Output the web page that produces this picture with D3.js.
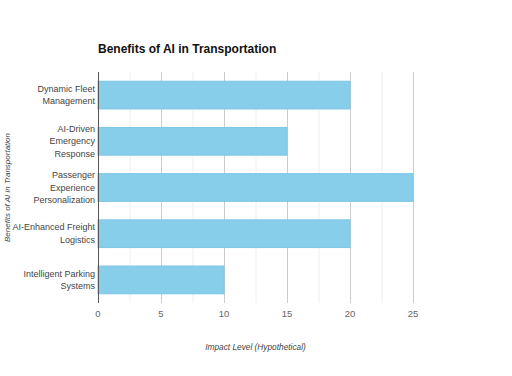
<!DOCTYPE html>
<html>
<head>
<meta charset="utf-8">
<script src="https://cdn.jsdelivr.net/npm/d3@7"></script>
<style>
  body { margin: 0; background: #fff; font-family: Arial, "Liberation Sans", sans-serif; }
</style>
</head>
<body>
<div id="chart"></div>
<script>
var categories = [
  ["Dynamic Fleet", "Management"],
  ["AI-Driven", "Emergency", "Response"],
  ["Passenger", "Experience", "Personalization"],
  ["AI-Enhanced Freight", "Logistics"],
  ["Intelligent Parking", "Systems"]
];
var values = [20, 15, 25, 20, 10];
var xTicks = [0, 5, 10, 15, 20, 25];
var minorTicks = [2.5, 7.5, 12.5, 17.5, 22.5];

var width = 512;
var height = 376;
var margin = { top: 72, right: 99, bottom: 73, left: 98 };

var svg = d3.select("#chart")
  .append("svg")
  .attr("width", width)
  .attr("height", height);

var x = d3.scaleLinear()
  .domain([0, 25])
  .range([margin.left, width - margin.right]);

var y = d3.scaleBand()
  .domain(d3.range(categories.length))
  .range([margin.top, height - margin.bottom])
  .paddingInner(0.4)
  .paddingOuter(0.2);

// grid
svg.append("g")
  .selectAll("line")
  .data(minorTicks)
  .join("line")
  .attr("x1", d => x(d) + 0.5)
  .attr("x2", d => x(d) + 0.5)
  .attr("y1", margin.top)
  .attr("y2", height - margin.bottom)
  .attr("stroke", "#eeeeee");

svg.append("g")
  .selectAll("line")
  .data(xTicks.slice(1))
  .join("line")
  .attr("x1", d => x(d) + 0.5)
  .attr("x2", d => x(d) + 0.5)
  .attr("y1", margin.top)
  .attr("y2", height - margin.bottom)
  .attr("stroke", "#cccccc");

// bars
svg.append("g")
  .selectAll("rect")
  .data(values)
  .join("rect")
  .attr("x", x(0))
  .attr("y", (d, i) => y(i))
  .attr("width", d => x(d) - x(0))
  .attr("height", y.bandwidth())
  .attr("fill", "#87ceeb")
  .attr("stroke", "#7cc6e6")
  .attr("stroke-width", 1);

// y axis line
svg.append("line")
  .attr("x1", x(0) + 0.5)
  .attr("x2", x(0) + 0.5)
  .attr("y1", margin.top)
  .attr("y2", height - margin.bottom)
  .attr("stroke", "#555");

// x tick labels
svg.append("g")
  .selectAll("text")
  .data(xTicks)
  .join("text")
  .attr("x", d => x(d))
  .attr("y", height - margin.bottom + 14)
  .attr("text-anchor", "middle")
  .attr("font-size", 9.5)
  .attr("fill", "#666")
  .text(d => d);

// y labels
var ylab = svg.append("g")
  .selectAll("text")
  .data(categories)
  .join("text")
  .attr("text-anchor", "end")
  .attr("font-size", 9)
  .attr("fill", "#444");

ylab.each(function (lines, i) {
  var cy = y(i) + y.bandwidth() / 2;
  var lh = 12.5;
  var start = cy - (lines.length - 1) * lh / 2 + 3;
  d3.select(this).selectAll("tspan")
    .data(lines)
    .join("tspan")
    .attr("x", x(0) - 3)
    .attr("y", (d, j) => start + j * lh)
    .text(d => d);
});

// title
svg.append("text")
  .attr("x", x(0))
  .attr("y", 53)
  .attr("font-size", 12)
  .attr("font-weight", "bold")
  .attr("fill", "#111")
  .text("Benefits of AI in Transportation");

// axis titles
svg.append("text")
  .attr("x", (x(0) + x(25)) / 2)
  .attr("y", 350)
  .attr("text-anchor", "middle")
  .attr("font-size", 8.3)
  .attr("font-style", "italic")
  .attr("fill", "#444")
  .text("Impact Level (Hypothetical)");

svg.append("text")
  .attr("transform", "translate(10," + ((margin.top + height - margin.bottom) / 2) + ") rotate(-90)")
  .attr("text-anchor", "middle")
  .attr("font-size", 8)
  .attr("font-style", "italic")
  .attr("fill", "#444")
  .text("Benefits of AI in Transportation");
</script>
</body>
</html>
